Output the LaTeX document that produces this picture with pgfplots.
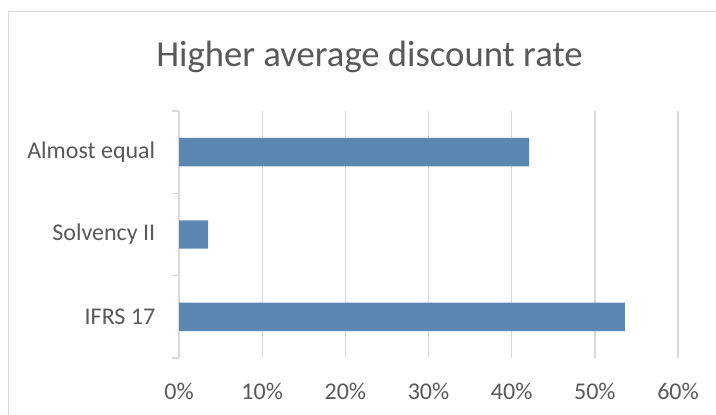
\documentclass[border=0pt]{standalone}
\usepackage{fontspec}
\setmainfont{Carlito}
\usepackage{pgfplots}
\pgfplotsset{compat=1.18}
\definecolor{barblue}{RGB}{91,135,178}
\definecolor{gridgray}{RGB}{217,217,217}
\definecolor{textgray}{RGB}{89,89,89}

\begin{document}
\begin{tikzpicture}
% page = 716 x 414 px at 0.75pt per px
\path[use as bounding box] (0,0) rectangle (537pt,310.5pt);
\draw[gridgray, line width=0.75pt] (6pt,-10pt) -- (6pt,301.5pt) -- (560pt,301.5pt);
\node[anchor=base, text=textgray, font=\fontsize{27.5}{33}\selectfont]
  at (277.1pt,260.5pt) {Higher average discount rate};
\begin{axis}[
  at={(134.25pt,42pt)}, anchor=south west,
  scale only axis, width=374.25pt, height=185.25pt,
  xbar, bar width=21.3pt,
  xmin=0, xmax=60, ymin=-0.5, ymax=2.5,
  xtick={0,10,...,60},
  xticklabel={\pgfmathprintnumber{\tick}\%},
  ytick={0,1,2},
  yticklabels={IFRS 17, Solvency II, Almost equal},
  minor ytick={-0.5,0.5,1.5,2.5},
  ytick pos=left, xtick pos=bottom,
  xmajorgrids,
  grid style={gridgray, line width=1pt},
  axis line style={draw=none},
  major tick style={draw=none},
  minor tick style={gridgray, line width=1pt},
  minor tick length=5.25pt,
  tick align=outside,
  ticklabel style={text=textgray, font=\fontsize{18}{21}\selectfont},
  /pgf/number format/assume math mode=true,
  xticklabel style={yshift=-11pt},
  yticklabel style={xshift=-10pt},
]
\addplot[fill=barblue, draw=none] coordinates {(53.6,0) (3.5,1) (42.1,2)};
\end{axis}
\end{tikzpicture}
\end{document}
